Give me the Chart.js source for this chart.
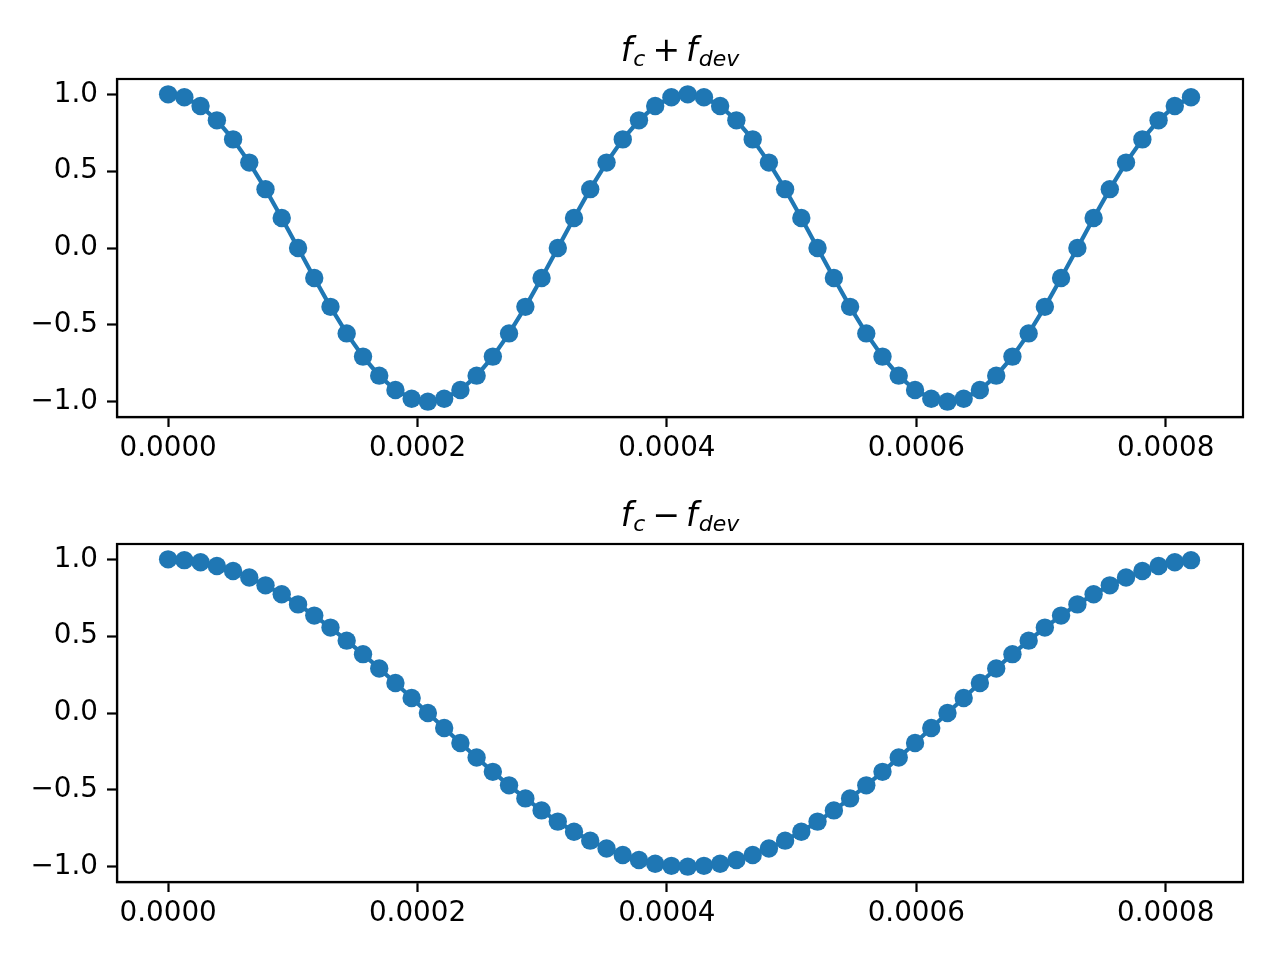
<!DOCTYPE html>
<html>
<head>
<meta charset="utf-8">
<script src="https://cdn.jsdelivr.net/npm/chart.js@4/dist/chart.umd.min.js"></script>
<style>
  html, body { margin: 0; padding: 0; background: #fff; }
  .panel { position: absolute; left: 0; width: 1280px; height: 480px; }
</style>
</head>
<body>
<div class="panel" style="top:0"><canvas id="chart-top" width="1280" height="480"></canvas></div>
<div class="panel" style="top:465px"><canvas id="chart-bot" width="1280" height="480"></canvas></div>
<script>
// datos
const timeSec = [
  0, 0.0000130, 0.0000260, 0.0000391, 0.0000521, 0.0000651, 0.0000781, 0.0000911,
  0.0001042, 0.0001172, 0.0001302, 0.0001432, 0.0001563, 0.0001693, 0.0001823, 0.0001953,
  0.0002083, 0.0002214, 0.0002344, 0.0002474, 0.0002604, 0.0002734, 0.0002865, 0.0002995,
  0.0003125, 0.0003255, 0.0003385, 0.0003516, 0.0003646, 0.0003776, 0.0003906, 0.0004036,
  0.0004167, 0.0004297, 0.0004427, 0.0004557, 0.0004688, 0.0004818, 0.0004948, 0.0005078,
  0.0005208, 0.0005339, 0.0005469, 0.0005599, 0.0005729, 0.0005859, 0.0005990, 0.0006120,
  0.0006250, 0.0006380, 0.0006510, 0.0006641, 0.0006771, 0.0006901, 0.0007031, 0.0007161,
  0.0007292, 0.0007422, 0.0007552, 0.0007682, 0.0007813, 0.0007943, 0.0008073, 0.0008203
];

// f_c + f_dev
const sigUpper = [
  1.000, 0.981, 0.924, 0.831, 0.707, 0.556, 0.383, 0.195,
  0.000, -0.195, -0.383, -0.556, -0.707, -0.831, -0.924, -0.981,
  -1.000, -0.981, -0.924, -0.831, -0.707, -0.556, -0.383, -0.195,
  0.000, 0.195, 0.383, 0.556, 0.707, 0.831, 0.924, 0.981,
  1.000, 0.981, 0.924, 0.831, 0.707, 0.556, 0.383, 0.195,
  0.000, -0.195, -0.383, -0.556, -0.707, -0.831, -0.924, -0.981,
  -1.000, -0.981, -0.924, -0.831, -0.707, -0.556, -0.383, -0.195,
  0.000, 0.195, 0.383, 0.556, 0.707, 0.831, 0.924, 0.981
];

// f_c - f_dev
const sigLower = [
  1.000, 0.995, 0.981, 0.957, 0.924, 0.882, 0.831, 0.773,
  0.707, 0.634, 0.556, 0.471, 0.383, 0.290, 0.195, 0.098,
  0.000, -0.098, -0.195, -0.290, -0.383, -0.471, -0.556, -0.634,
  -0.707, -0.773, -0.831, -0.882, -0.924, -0.957, -0.981, -0.995,
  -1.000, -0.995, -0.981, -0.957, -0.924, -0.882, -0.831, -0.773,
  -0.707, -0.634, -0.556, -0.471, -0.383, -0.290, -0.195, -0.098,
  0.000, 0.098, 0.195, 0.290, 0.383, 0.471, 0.556, 0.634,
  0.707, 0.773, 0.831, 0.882, 0.924, 0.957, 0.981, 0.995
];

const xTicks = [0, 0.0002, 0.0004, 0.0006, 0.0008];
const yTicks = [-1.0, -0.5, 0.0, 0.5, 1.0];

const BLUE = '#1f77b4';
const FONT = 'DejaVu Sans';

// titulo estilo mathtext: f_c +/- f_dev
function titlePlugin(sign) {
    return {
        id: 'mathTitle',
        afterDraw(chart) {
            const ctx = chart.ctx;
            const area = chart.chartArea;
            const big = "italic 33px '" + FONT + "'";
            const small = "italic 22px '" + FONT + "'";
            const norm = "33px '" + FONT + "'";
            const parts = [
                { t: 'f', f: big, dy: 0, gap: 1 },
                { t: 'c', f: small, dy: 5, gap: 7 },
                { t: sign, f: norm, dy: 0, gap: 6 },
                { t: 'f', f: big, dy: 0, gap: 1 },
                { t: 'dev', f: small, dy: 5, gap: 0 }
            ];
            ctx.save();
            let total = 0;
            parts.forEach(p => { ctx.font = p.f; p.w = ctx.measureText(p.t).width + p.gap; total += p.w; });
            let x = (area.left + area.right) / 2 - total / 2;
            const base = area.top - 18;
            ctx.fillStyle = '#000';
            ctx.textBaseline = 'alphabetic';
            ctx.textAlign = 'left';
            parts.forEach(p => {
                ctx.font = p.f;
                ctx.fillText(p.t, x, base + p.dy);
                x += p.w;
            });
            ctx.restore();
        }
    };
}

// marco completo de los ejes
const boxPlugin = {
    id: 'axesBox',
    afterDraw(chart) {
        const { ctx, chartArea: a } = chart;
        ctx.save();
        ctx.strokeStyle = '#000';
        ctx.lineWidth = 2.2;
        ctx.strokeRect(a.left, a.top, a.right - a.left, a.bottom - a.top);
        ctx.restore();
    }
};

function buildChart(canvasId, values, sign) {
    const ctx = document.getElementById(canvasId).getContext('2d');
    return new Chart(ctx, {
        type: 'line',
        data: {
            datasets: [{
                data: timeSec.map((t, i) => ({ x: t, y: values[i] })),
                borderColor: BLUE,
                backgroundColor: BLUE,
                borderWidth: 4.2,
                pointRadius: 9.2,
                pointHoverRadius: 9.2,
                pointBorderWidth: 0,
                pointBackgroundColor: BLUE,
                tension: 0
            }]
        },
        options: {
            responsive: false,
            animation: false,
            events: [],
            layout: { padding: { top: 79, right: 37, left: 0, bottom: 0 } },
            plugins: {
                legend: { display: false },
                tooltip: { enabled: false },
                title: { display: false }
            },
            scales: {
                x: {
                    type: 'linear',
                    min: -0.000041,
                    max: 0.000862,
                    afterFit: s => { s.height = 63; },
                    afterBuildTicks: s => { s.ticks = xTicks.map(v => ({ value: v })); },
                    grid: { display: true, drawOnChartArea: false, drawTicks: true, tickLength: 10, tickWidth: 2.2, tickColor: '#000' },
                    border: { display: true, color: '#000', width: 2.2 },
                    ticks: {
                        color: '#000',
                        padding: 5,
                        maxRotation: 0,
                        autoSkip: false,
                        font: { family: FONT, size: 27.8 },
                        callback: v => Number(v).toFixed(4)
                    }
                },
                y: {
                    min: -1.1,
                    max: 1.1,
                    afterFit: s => { s.width = 117; },
                    afterBuildTicks: s => { s.ticks = yTicks.map(v => ({ value: v })); },
                    grid: { display: true, drawOnChartArea: false, drawTicks: true, tickLength: 10, tickWidth: 2.2, tickColor: '#000' },
                    border: { display: true, color: '#000', width: 2.2 },
                    ticks: {
                        color: '#000',
                        padding: 9,
                        autoSkip: false,
                        font: { family: FONT, size: 27.8 },
                        callback: v => Number(v).toFixed(1).replace('-', '\u2212')
                    }
                }
            }
        },
        plugins: [boxPlugin, titlePlugin(sign)]
    });
}

buildChart('chart-top', sigUpper, '+');
buildChart('chart-bot', sigLower, '\u2212');
</script>
</body>
</html>
